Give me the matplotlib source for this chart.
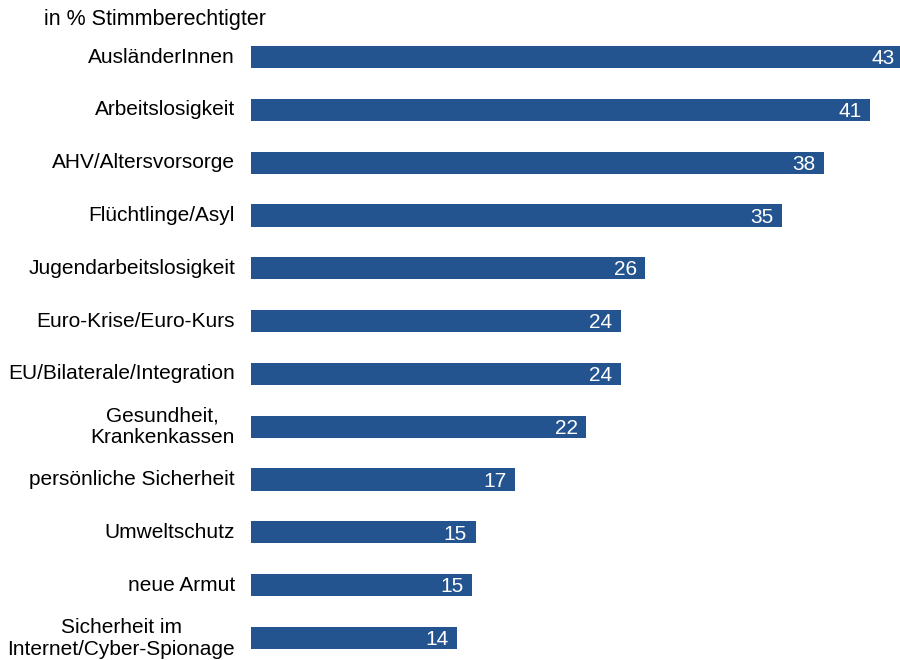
import matplotlib
matplotlib.use("Agg")
import matplotlib.pyplot as plt

categories = ["AusländerInnen", "Arbeitslosigkeit", "AHV/Altersvorsorge", "Flüchtlinge/Asyl",
              "Jugendarbeitslosigkeit", "Euro-Krise/Euro-Kurs", "EU/Bilaterale/Integration",
              "Gesundheit,\nKrankenkassen", "persönliche Sicherheit", "Umweltschutz",
              "neue Armut", "Sicherheit im\nInternet/Cyber-Spionage"]
values = [43.0, 40.8, 37.8, 35.0, 26.0, 24.4, 24.4, 22.1, 17.4, 14.8, 14.6, 13.6]
subtitle = "in % Stimmberechtigter"

plt.rcParams['font.family'] = ['Liberation Sans', 'DejaVu Sans']
fig = plt.figure(figsize=(9, 6.6), dpi=100)
ax = fig.add_axes([251 / 900, -0.0067, 649 / 900, 0.9603])
color = "#24548f"
y = list(range(len(categories)))
ax.barh(y, values, height=0.42, color=color)
ax.set_xlim(0, 649 / 15.17)
ax.set_ylim(11.5, -0.5)
for s in ax.spines.values():
    s.set_visible(False)
ax.set_xticks([])
ax.set_yticks([])
for yi, v, lab in zip(y, values, categories):
    ax.annotate(f"{round(v)}", xy=(v, yi), xytext=(-6.2, -1.2), textcoords="offset points",
                color="white", ha="right", va="center", fontsize=15, annotation_clip=False)
    ax.annotate(lab, xy=(0, yi), xytext=(-11.5, 0), textcoords="offset points",
                ha="right", va="center", fontsize=15, multialignment="center",
                annotation_clip=False)
fig.text(44 / 900, 1 - 19 / 660, subtitle, ha="left", va="center", fontsize=15.5)
fig.savefig("out.png", dpi=100)
